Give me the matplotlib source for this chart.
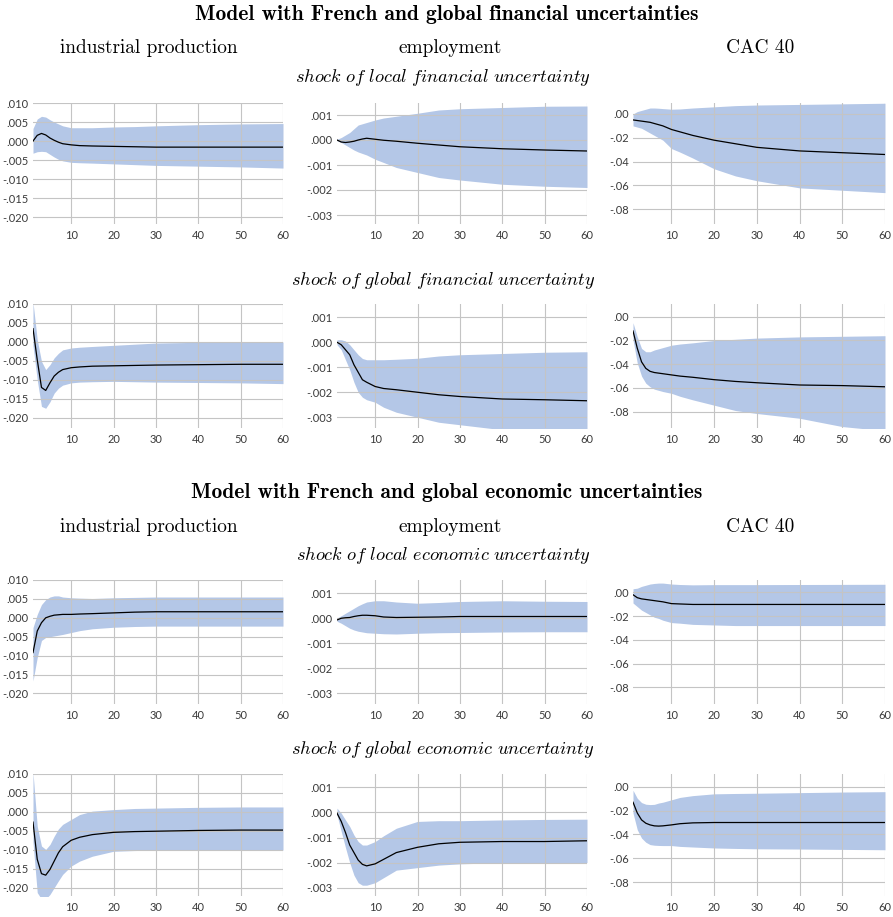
import matplotlib
matplotlib.use("Agg")
import matplotlib.pyplot as plt

plt.rcParams["mathtext.fontset"] = "cm"

horizons = [1, 2, 3, 4, 5, 6, 7, 8, 10, 12, 15, 20, 25, 30, 40, 50, 60]

# --- French and global financial uncertainties: local shock ---
ip_fin_loc = [0.0000, 0.0015, 0.0020, 0.0016, 0.0008, 0.0002, -0.0003, -0.0007, -0.0010, -0.0012, -0.0013, -0.0014, -0.0015, -0.0016, -0.0016, -0.0016, -0.0016]
ip_fin_loc_hi = [0.0033, 0.0058, 0.0065, 0.0063, 0.0056, 0.0050, 0.0045, 0.0040, 0.0035, 0.0035, 0.0035, 0.0037, 0.0038, 0.0040, 0.0043, 0.0045, 0.0046]
ip_fin_loc_lo = [-0.0032, -0.0028, -0.0027, -0.0028, -0.0035, -0.0042, -0.0048, -0.0052, -0.0056, -0.0057, -0.0058, -0.0060, -0.0062, -0.0064, -0.0066, -0.0068, -0.0071]

emp_fin_loc = [0.0, -0.00008, -0.0001, -0.00008, -0.00005, 0.0, 0.00004, 0.00007, 0.00003, -0.00001, -0.00005, -0.00013, -0.0002, -0.00027, -0.00035, -0.0004, -0.00044]
emp_fin_loc_hi = [0.00003, 0.0001, 0.0002, 0.0003, 0.00045, 0.0006, 0.00065, 0.0007, 0.0008, 0.00088, 0.00095, 0.00107, 0.0012, 0.00125, 0.0013, 0.00135, 0.00136]
emp_fin_loc_lo = [-0.00003, -0.0001, -0.0002, -0.0003, -0.0004, -0.00048, -0.00054, -0.0006, -0.00077, -0.0009, -0.0011, -0.0013, -0.0015, -0.0016, -0.00177, -0.00185, -0.0019]

cac_fin_loc = [-0.005, -0.0055, -0.006, -0.0065, -0.007, -0.008, -0.009, -0.010, -0.013, -0.015, -0.018, -0.022, -0.025, -0.028, -0.031, -0.0325, -0.034]
cac_fin_loc_hi = [0.000, 0.002, 0.003, 0.004, 0.005, 0.005, 0.0048, 0.0045, 0.004, 0.0042, 0.005, 0.006, 0.007, 0.0075, 0.008, 0.0085, 0.009]
cac_fin_loc_lo = [-0.010, -0.011, -0.012, -0.014, -0.016, -0.018, -0.020, -0.022, -0.029, -0.032, -0.037, -0.046, -0.052, -0.056, -0.062, -0.064, -0.066]

# --- French and global financial uncertainties: global shock ---
ip_fin_glo = [0.0035, -0.0047, -0.0120, -0.0128, -0.0108, -0.0090, -0.0080, -0.0073, -0.0068, -0.0066, -0.0064, -0.0063, -0.0062, -0.0061, -0.0060, -0.0059, -0.0059]
ip_fin_glo_hi = [0.0105, 0.0006, -0.0051, -0.0073, -0.0060, -0.0042, -0.0030, -0.0021, -0.0016, -0.0014, -0.0012, -0.0009, -0.0006, -0.0003, -0.0001, 0.0000, 0.0000]
ip_fin_glo_lo = [-0.0010, -0.0100, -0.0170, -0.0175, -0.0158, -0.0135, -0.0122, -0.0114, -0.0108, -0.0106, -0.0105, -0.0104, -0.0105, -0.0106, -0.0107, -0.0108, -0.0110]

emp_fin_glo = [0.0, -0.0001, -0.0003, -0.0005, -0.0009, -0.0012, -0.0015, -0.0016, -0.00177, -0.00185, -0.0019, -0.0020, -0.0021, -0.00217, -0.00227, -0.0023, -0.00234]
emp_fin_glo_hi = [0.0001, 0.0001, 0.00005, -0.0001, -0.0003, -0.0005, -0.00065, -0.0007, -0.0007, -0.0007, -0.00068, -0.00064, -0.00055, -0.0005, -0.00045, -0.0004, -0.00038]
emp_fin_glo_lo = [-0.0001, -0.0003, -0.0007, -0.0011, -0.0016, -0.0020, -0.0022, -0.0023, -0.0024, -0.0026, -0.0028, -0.0030, -0.0032, -0.0033, -0.0035, -0.0036, -0.0036]

cac_fin_glo = [-0.012, -0.0265, -0.038, -0.0435, -0.046, -0.047, -0.0475, -0.048, -0.049, -0.050, -0.051, -0.053, -0.0545, -0.0556, -0.0575, -0.058, -0.059]
cac_fin_glo_hi = [-0.005, -0.017, -0.0267, -0.0295, -0.0295, -0.028, -0.027, -0.026, -0.024, -0.023, -0.022, -0.020, -0.019, -0.018, -0.017, -0.0165, -0.016]
cac_fin_glo_lo = [-0.0195, -0.039, -0.050, -0.056, -0.059, -0.061, -0.062, -0.063, -0.0645, -0.067, -0.070, -0.0745, -0.079, -0.0815, -0.0855, -0.0925, -0.096]

# --- French and global economic uncertainties: local shock ---
ip_eco_loc = [-0.0092, -0.0035, -0.0013, 0.0000, 0.0004, 0.0007, 0.0008, 0.0009, 0.0009, 0.0010, 0.0011, 0.0013, 0.0015, 0.0016, 0.0016, 0.0016, 0.0016]
ip_eco_loc_hi = [-0.0026, 0.0009, 0.0035, 0.0048, 0.0055, 0.0058, 0.0058, 0.0055, 0.0053, 0.0052, 0.0051, 0.0053, 0.0054, 0.0055, 0.0055, 0.0055, 0.0055]
ip_eco_loc_lo = [-0.0167, -0.0105, -0.0060, -0.0052, -0.0050, -0.0048, -0.0046, -0.0044, -0.0039, -0.0034, -0.0029, -0.0025, -0.0023, -0.0022, -0.0022, -0.0022, -0.0022]

emp_eco_loc = [-0.00007, 0.0, 0.00002, 0.00003, 0.00007, 0.0001, 0.00012, 0.00012, 0.0001, 0.00005, 0.00003, 0.00004, 0.00005, 0.00007, 0.00007, 0.00007, 0.00007]
emp_eco_loc_hi = [0.00001, 0.0001, 0.0002, 0.0003, 0.0004, 0.0005, 0.00058, 0.00065, 0.0007, 0.0007, 0.00065, 0.0006, 0.00063, 0.00067, 0.0007, 0.00068, 0.00067]
emp_eco_loc_lo = [-0.00012, -0.0002, -0.0003, -0.0004, -0.00047, -0.00052, -0.00055, -0.00058, -0.0006, -0.00062, -0.00063, -0.0006, -0.00058, -0.00057, -0.00055, -0.00054, -0.00054]

cac_eco_loc = [-0.002, -0.0045, -0.0055, -0.006, -0.0065, -0.007, -0.0075, -0.008, -0.0095, -0.0098, -0.0102, -0.0102, -0.0102, -0.0102, -0.0102, -0.0102, -0.0102]
cac_eco_loc_hi = [0.003, 0.0035, 0.005, 0.006, 0.007, 0.0075, 0.0078, 0.0078, 0.007, 0.0066, 0.0063, 0.0065, 0.0065, 0.0065, 0.0066, 0.0067, 0.0068]
cac_eco_loc_lo = [-0.009, -0.012, -0.015, -0.017, -0.019, -0.021, -0.022, -0.0235, -0.0255, -0.026, -0.027, -0.0275, -0.028, -0.028, -0.028, -0.028, -0.028]

# --- French and global economic uncertainties: global shock ---
ip_eco_glo = [-0.0027, -0.0125, -0.0163, -0.0167, -0.0152, -0.0130, -0.0108, -0.0092, -0.0075, -0.0067, -0.0060, -0.0054, -0.0052, -0.0051, -0.0049, -0.0048, -0.0048]
ip_eco_glo_hi = [0.0105, -0.0038, -0.0090, -0.0099, -0.0086, -0.0064, -0.0045, -0.0033, -0.0020, -0.0007, 0.0002, 0.0006, 0.0009, 0.0010, 0.0012, 0.0013, 0.0013]
ip_eco_glo_lo = [-0.0080, -0.0213, -0.0230, -0.0230, -0.0218, -0.0200, -0.0182, -0.0165, -0.0143, -0.0130, -0.0117, -0.0104, -0.0102, -0.0101, -0.0101, -0.0101, -0.0101]

emp_eco_glo = [-0.00003, -0.00036, -0.0008, -0.0013, -0.0016, -0.0019, -0.00207, -0.00213, -0.00205, -0.00187, -0.0016, -0.00139, -0.00125, -0.00119, -0.00116, -0.00116, -0.00113]
emp_eco_glo_hi = [0.00017, -0.00003, -0.0003, -0.00056, -0.0009, -0.00116, -0.0013, -0.0013, -0.00116, -0.00093, -0.00063, -0.00036, -0.00033, -0.00033, -0.0003, -0.00028, -0.00027]
emp_eco_glo_lo = [-0.0001, -0.00076, -0.0014, -0.0020, -0.0025, -0.0028, -0.0029, -0.0029, -0.0028, -0.0026, -0.0023, -0.0022, -0.0021, -0.00205, -0.0020, -0.0020, -0.0020]

cac_eco_glo = [-0.013, -0.022, -0.0278, -0.0306, -0.032, -0.0328, -0.033, -0.0328, -0.032, -0.031, -0.0303, -0.030, -0.030, -0.030, -0.030, -0.030, -0.030]
cac_eco_glo_hi = [-0.003, -0.0097, -0.0133, -0.0147, -0.015, -0.0148, -0.0137, -0.013, -0.011, -0.009, -0.0075, -0.006, -0.0057, -0.0055, -0.005, -0.0045, -0.0042]
cac_eco_glo_lo = [-0.022, -0.036, -0.043, -0.0465, -0.0485, -0.049, -0.0492, -0.0493, -0.0493, -0.050, -0.0505, -0.0513, -0.0517, -0.052, -0.0522, -0.0525, -0.0528]

variables = ["industrial production", "employment", "CAC 40"]
model_titles = ["Model with French and global financial uncertainties",
                "Model with French and global economic uncertainties"]
shock_titles = ["shock of local financial uncertainty", "shock of global financial uncertainty",
                "shock of local economic uncertainty", "shock of global economic uncertainty"]

ip_ticks = [0.010, 0.005, 0.0, -0.005, -0.010, -0.015, -0.020]
ip_labels = [".010", ".005", ".000", "-.005", "-.010", "-.015", "-.020"]
emp_ticks = [0.001, 0.0, -0.001, -0.002, -0.003]
emp_labels = [".001", ".000", "-.001", "-.002", "-.003"]
cac_ticks = [0.0, -0.02, -0.04, -0.06, -0.08]
cac_labels = [".00", "-.02", "-.04", "-.06", "-.08"]
x_ticks = [10, 20, 30, 40, 50, 60]

panels = [
    [(ip_fin_loc, ip_fin_loc_lo, ip_fin_loc_hi), (emp_fin_loc, emp_fin_loc_lo, emp_fin_loc_hi), (cac_fin_loc, cac_fin_loc_lo, cac_fin_loc_hi)],
    [(ip_fin_glo, ip_fin_glo_lo, ip_fin_glo_hi), (emp_fin_glo, emp_fin_glo_lo, emp_fin_glo_hi), (cac_fin_glo, cac_fin_glo_lo, cac_fin_glo_hi)],
    [(ip_eco_loc, ip_eco_loc_lo, ip_eco_loc_hi), (emp_eco_loc, emp_eco_loc_lo, emp_eco_loc_hi), (cac_eco_loc, cac_eco_loc_lo, cac_eco_loc_hi)],
    [(ip_eco_glo, ip_eco_glo_lo, ip_eco_glo_hi), (emp_eco_glo, emp_eco_glo_lo, emp_eco_glo_hi), (cac_eco_glo, cac_eco_glo_lo, cac_eco_glo_hi)],
]
col_ticks = [(ip_ticks, ip_labels), (emp_ticks, emp_labels), (cac_ticks, cac_labels)]

# axis ranges per row / column
ylims = [
    [(-0.0218, 0.0100), (-0.00336, 0.00148), (-0.0923, 0.0092)],
    [(-0.0227, 0.0100), (-0.00343, 0.00153), (-0.0937, 0.0107)],
    [(-0.0228, 0.0100), (-0.00343, 0.00153), (-0.0941, 0.0104)],
    [(-0.0222, 0.0100), (-0.00333, 0.00153), (-0.0915, 0.0106)],
]

W, H = 893, 917
fig = plt.figure(figsize=(W / 100, H / 100), dpi=100)

# pixel boxes of the plot areas
col_px = [(33, 283), (337, 587), (633, 885)]
row_px = [(103, 224), (304, 428), (580, 704), (774, 896)]

BAND = "#b4c7e7"
GRID = "#c4c4c4"
TICK = "#3a3a3a"

for r in range(4):
    for c in range(3):
        x0, x1 = col_px[c]
        y0, y1 = row_px[r]
        ax = fig.add_axes([x0 / W, 1 - y1 / H, (x1 - x0) / W, (y1 - y0) / H])
        mean, lo, hi = panels[r][c]
        ax.fill_between(horizons, lo, hi, color=BAND, lw=0, zorder=1)
        ax.plot(horizons, mean, color="black", lw=0.9, zorder=3)
        ax.set_xlim(1, 60)
        ax.set_ylim(*ylims[r][c])
        ticks, labels = col_ticks[c]
        ax.set_yticks(ticks)
        ax.set_yticklabels(labels)
        ax.set_xticks(x_ticks)
        ax.set_axisbelow(False)
        ax.grid(True, color=GRID, lw=0.8)
        for s in ax.spines.values():
            s.set_visible(False)
        ax.tick_params(length=0, labelsize=8, labelcolor=TICK, pad=3)
        ax.tick_params(axis="x", pad=4)
        for t in ax.get_xticklabels() + ax.get_yticklabels():
            t.set_fontfamily("Lato")


def ftext(x, y, s, **kw):
    fig.text(x / W, 1 - y / H, s, ha="center", va="center", **kw)


for m, ty in enumerate([15, 492]):
    ftext(447, ty, model_titles[m], family="cmb10", fontsize=15.5)
for hy in [48, 527]:
    for c, hx in enumerate([149, 450, 760]):
        ftext(hx, hy, variables[c], family="cmr10", fontsize=13.9)
for k, sy in enumerate([77, 280, 556, 750]):
    words = shock_titles[k].replace(" ", r"\ ")
    ftext(443, sy, r"$\mathit{" + words + "}$", fontsize=13.2)

fig.savefig("out.png", dpi=100)
